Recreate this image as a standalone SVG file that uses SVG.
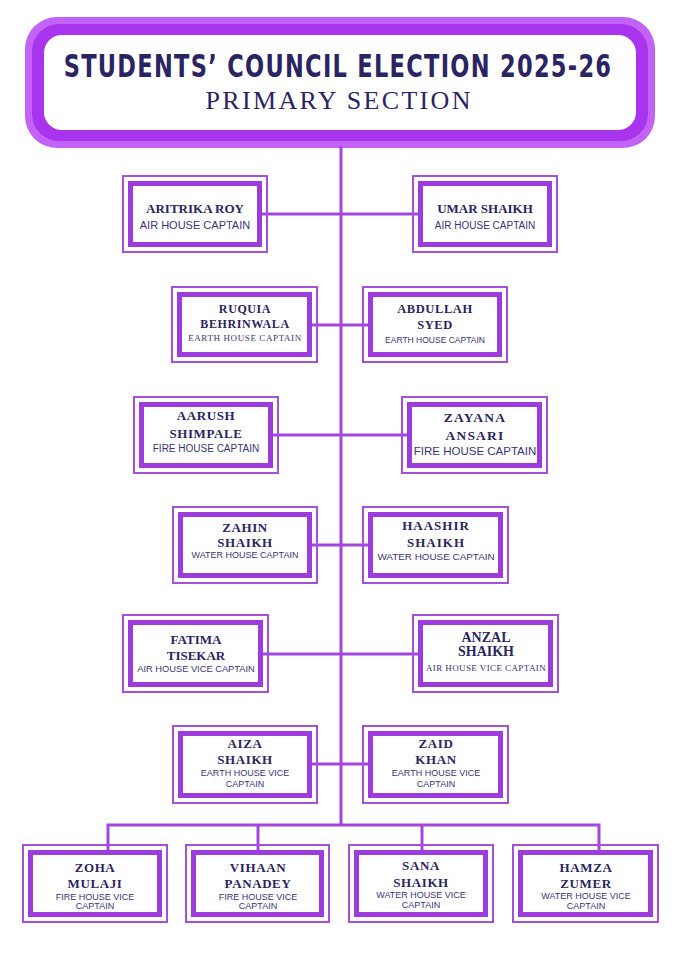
<svg xmlns="http://www.w3.org/2000/svg" width="680" height="960" viewBox="0 0 680 960">
<style>
.thin{fill:none;stroke:#a450dc;stroke-width:2}
.thick{fill:#ffffff;stroke:#9c3cdc;stroke-width:5}
.nm{font-family:"Liberation Serif","DejaVu Serif",serif;font-weight:bold;font-size:13px;fill:#2a2560;text-anchor:middle;letter-spacing:0.6px}
.rl{font-family:"Liberation Sans","DejaVu Sans",sans-serif;font-size:9px;fill:#3b3472;text-anchor:middle}
.rs{font-family:"Liberation Serif","DejaVu Serif",serif;font-size:9px;fill:#3b3472;text-anchor:middle;letter-spacing:0.6px}
.ln{fill:none;stroke:#a346e0;stroke-width:3}
</style>
<rect width="680" height="960" fill="#ffffff"/>
<g id="header">
<rect x="25" y="17" width="630" height="131" rx="32" fill="#c262f7"/>
<rect x="32" y="24" width="616" height="117" rx="27" fill="#a934ed"/>
<rect x="44" y="35" width="592" height="95" rx="18" fill="#ffffff"/>
<text transform="translate(338 77) scale(1 1.3)" x="0" y="0" font-family="DejaVu Sans Condensed,Liberation Sans Narrow,Liberation Sans,sans-serif" font-weight="bold" font-size="25" letter-spacing="1.3" fill="#2a2463" text-anchor="middle">STUDENTS’ COUNCIL ELECTION 2025-26</text>
<text x="338" y="109" font-family="Liberation Serif,DejaVu Serif,serif" font-size="26" fill="#2a2463" text-anchor="middle" textLength="265" lengthAdjust="spacing">PRIMARY SECTION</text>
</g>
<g id="connectors">
<path class="ln" d="M341 146 V825"/>
<path class="ln" d="M262 214 H418"/>
<path class="ln" d="M312 325 H368"/>
<path class="ln" d="M273 435 H407"/>
<path class="ln" d="M312 545 H368"/>
<path class="ln" d="M263 654 H418"/>
<path class="ln" d="M312 764 H368"/>
<path class="ln" d="M108 851 V825 H599 V851"/>
<path class="ln" d="M258 825 V851"/>
<path class="ln" d="M422 825 V851"/>
</g>
<g id="n-aritrika">
<rect class="thin" x="123" y="176" width="144" height="76"/>
<rect class="thick" x="130.5" y="183.5" width="129" height="61"/>
<text class="nm" x="195" y="213" style="letter-spacing:0">ARITRIKA ROY</text>
<text class="rl" x="195" y="229" style="font-size:11px">AIR HOUSE CAPTAIN</text>
</g>
<g id="n-umar">
<rect class="thin" x="413" y="176" width="144" height="76"/>
<rect class="thick" x="420.5" y="183.5" width="129" height="61"/>
<text class="nm" x="485" y="213" style="letter-spacing:0">UMAR SHAIKH</text>
<text class="rl" x="485" y="229" style="font-size:10px">AIR HOUSE CAPTAIN</text>
</g>
<g id="n-ruquia">
<rect class="thin" x="172" y="287" width="145" height="75"/>
<rect class="thick" x="179.5" y="294.5" width="130" height="60"/>
<text class="nm" x="245" y="313" style="font-size:12px">RUQUIA</text>
<text class="nm" x="245" y="328" style="font-size:12px">BEHRINWALA</text>
<text class="rs" x="245" y="341">EARTH HOUSE CAPTAIN</text>
</g>
<g id="n-abdullah">
<rect class="thin" x="363" y="287" width="144" height="75"/>
<rect class="thick" x="370.5" y="294.5" width="129" height="60"/>
<text class="nm" x="435" y="313" style="font-size:12.5px">ABDULLAH</text>
<text class="nm" x="435" y="329" style="font-size:12.5px">SYED</text>
<text class="rl" x="435" y="343" style="font-size:8.5px">EARTH HOUSE CAPTAIN</text>
</g>
<g id="n-aarush">
<rect class="thin" x="134" y="397" width="144" height="76"/>
<rect class="thick" x="141.5" y="404.5" width="129" height="61"/>
<text class="nm" x="206" y="420">AARUSH</text>
<text class="nm" x="206" y="438">SHIMPALE</text>
<text class="rl" x="206" y="452" style="font-size:10px">FIRE HOUSE CAPTAIN</text>
</g>
<g id="n-zayana">
<rect class="thin" x="402" y="397" width="145" height="76"/>
<rect class="thick" x="409.5" y="404.5" width="130" height="61"/>
<text class="nm" x="475" y="422" style="font-size:13.5px;letter-spacing:1.2px">ZAYANA</text>
<text class="nm" x="475" y="440" style="font-size:13.5px;letter-spacing:1.2px">ANSARI</text>
<text class="rl" x="475" y="455" style="font-size:11.5px">FIRE HOUSE CAPTAIN</text>
</g>
<g id="n-zahin">
<rect class="thin" x="173" y="507" width="144" height="76"/>
<rect class="thick" x="180.5" y="514.5" width="129" height="61"/>
<text class="nm" x="245" y="532">ZAHIN</text>
<text class="nm" x="245" y="547">SHAIKH</text>
<text class="rl" x="245" y="558">WATER HOUSE CAPTAIN</text>
</g>
<g id="n-haashir">
<rect class="thin" x="363" y="507" width="145" height="76"/>
<rect class="thick" x="370.5" y="514.5" width="130" height="61"/>
<text class="nm" x="436" y="530" style="letter-spacing:1px">HAASHIR</text>
<text class="nm" x="436" y="547" style="letter-spacing:1px">SHAIKH</text>
<text class="rl" x="436" y="560" style="font-size:9.9px">WATER HOUSE CAPTAIN</text>
</g>
<g id="n-fatima">
<rect class="thin" x="123" y="615" width="145" height="77"/>
<rect class="thick" x="130.5" y="622.5" width="130" height="62"/>
<text class="nm" x="196" y="644" style="letter-spacing:0">FATIMA</text>
<text class="nm" x="196" y="660" style="letter-spacing:0">TISEKAR</text>
<text class="rl" x="196" y="672" style="font-size:9.3px">AIR HOUSE VICE CAPTAIN</text>
</g>
<g id="n-anzal">
<rect class="thin" x="413" y="615" width="145" height="77"/>
<rect class="thick" x="420.5" y="622.5" width="130" height="62"/>
<text class="nm" x="486" y="642" style="font-size:14px;letter-spacing:0">ANZAL</text>
<text class="nm" x="486" y="656" style="font-size:14px;letter-spacing:0">SHAIKH</text>
<text class="rs" x="486" y="671" style="letter-spacing:0.4px">AIR HOUSE VICE CAPTAIN</text>
</g>
<g id="n-aiza">
<rect class="thin" x="173" y="726" width="144" height="77"/>
<rect class="thick" x="180.5" y="733.5" width="129" height="62"/>
<text class="nm" x="245" y="748">AIZA</text>
<text class="nm" x="245" y="764">SHAIKH</text>
<text class="rl" x="245" y="776">EARTH HOUSE VICE</text>
<text class="rl" x="245" y="787">CAPTAIN</text>
</g>
<g id="n-zaid">
<rect class="thin" x="363" y="726" width="145" height="77"/>
<rect class="thick" x="370.5" y="733.5" width="130" height="62"/>
<text class="nm" x="436" y="748">ZAID</text>
<text class="nm" x="436" y="764">KHAN</text>
<text class="rl" x="436" y="776">EARTH HOUSE VICE</text>
<text class="rl" x="436" y="787">CAPTAIN</text>
</g>
<g id="n-zoha">
<rect class="thin" x="23" y="845" width="144" height="77"/>
<rect class="thick" x="30.5" y="852.5" width="129" height="62"/>
<text class="nm" x="95" y="872">ZOHA</text>
<text class="nm" x="95" y="888">MULAJI</text>
<text class="rl" x="95" y="900">FIRE HOUSE VICE</text>
<text class="rl" x="95" y="909">CAPTAIN</text>
</g>
<g id="n-vihaan">
<rect class="thin" x="186" y="845" width="143" height="77"/>
<rect class="thick" x="193.5" y="852.5" width="128" height="62"/>
<text class="nm" x="258" y="872">VIHAAN</text>
<text class="nm" x="258" y="888">PANADEY</text>
<text class="rl" x="258" y="900">FIRE HOUSE VICE</text>
<text class="rl" x="258" y="909">CAPTAIN</text>
</g>
<g id="n-sana">
<rect class="thin" x="349" y="845" width="144" height="77"/>
<rect class="thick" x="356.5" y="852.5" width="129" height="62"/>
<text class="nm" x="421" y="870">SANA</text>
<text class="nm" x="421" y="887">SHAIKH</text>
<text class="rl" x="421" y="898">WATER HOUSE VICE</text>
<text class="rl" x="421" y="908">CAPTAIN</text>
</g>
<g id="n-hamza">
<rect class="thin" x="513" y="845" width="145" height="77"/>
<rect class="thick" x="520.5" y="852.5" width="130" height="62"/>
<text class="nm" x="586" y="872">HAMZA</text>
<text class="nm" x="586" y="888">ZUMER</text>
<text class="rl" x="586" y="899">WATER HOUSE VICE</text>
<text class="rl" x="586" y="909">CAPTAIN</text>
</g>
</svg>
